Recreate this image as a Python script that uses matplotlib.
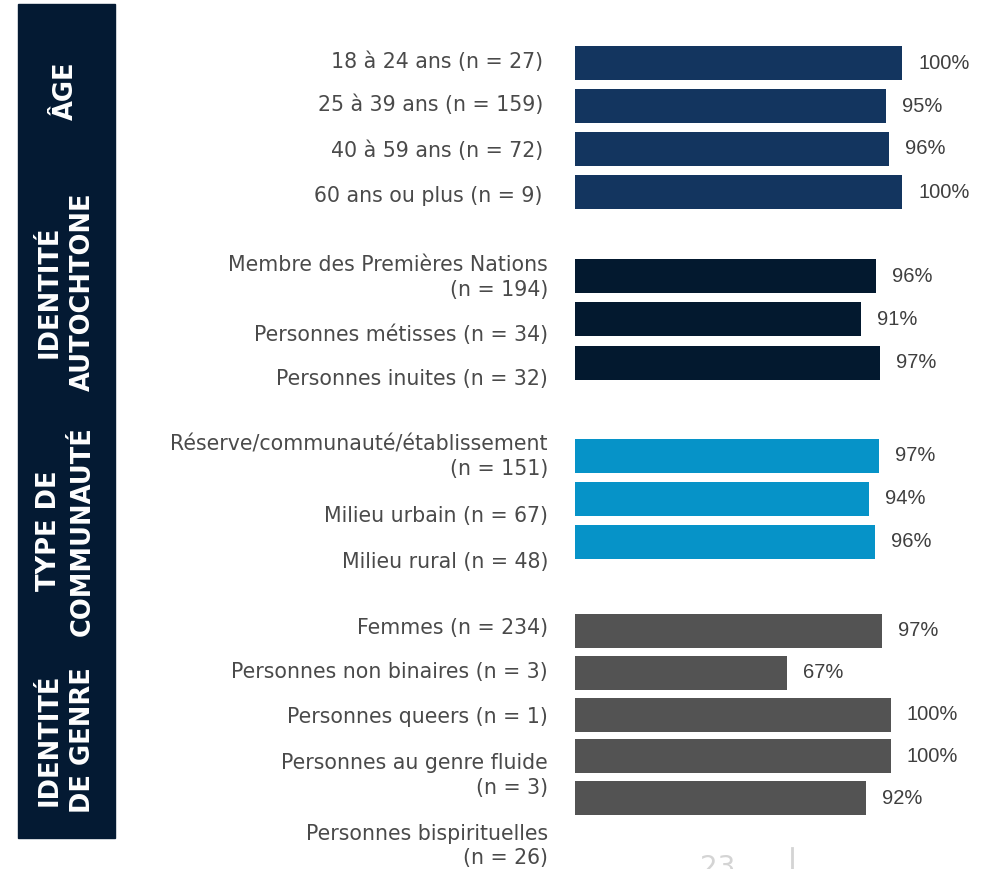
import numpy as np
import matplotlib.pyplot as plt
from matplotlib.patches import Rectangle

#%% Données
age_labels = ['18 à 24 ans (n = 27)', '25 à 39 ans (n = 159)',
              '40 à 59 ans (n = 72)', '60 ans ou plus (n = 9)']
age_vals = [100, 95, 96, 100]

auto_labels = ['Membre des Premières Nations\n(n = 194)',
               'Personnes métisses (n = 34)', 'Personnes inuites (n = 32)']
auto_vals = [96, 91, 97]

comm_labels = ['Réserve/communauté/établissement\n(n = 151)',
               'Milieu urbain (n = 67)', 'Milieu rural (n = 48)']
comm_vals = [97, 94, 96]

genre_labels = ['Femmes (n = 234)', 'Personnes non binaires (n = 3)',
                'Personnes queers (n = 1)', 'Personnes au genre fluide\n(n = 3)',
                'Personnes bispirituelles\n(n = 26)']
genre_vals = [97, 67, 100, 100, 92]

group_titles = ['ÂGE', 'IDENTITÉ\nAUTOCHTONE', 'TYPE DE\nCOMMUNAUTÉ', 'IDENTITÉ\nDE GENRE']

#%% Mise en page (pixels)
W, H = 986, 869
def fx(px): return px / W
def fy(py): return 1 - py / H

groups = [
    # valeurs, étiquettes, couleur, centre 1re barre, pas, largeur 100 %, y des étiquettes, bord droit
    (age_vals, age_labels, '#13355f', 63, 43, 327, [62, 105, 151, 196], 543),
    (auto_vals, auto_labels, '#03192f', 276, 43.3, 314, [277.5, 335, 379], 548),
    (comm_vals, comm_labels, '#0693c8', 455.5, 43, 313, [456.5, 516, 562], 548),
    (genre_vals, genre_labels, '#535353', 631, 41.8, 316, [628, 672, 717, 775.5, 846], 548),
]
title_y = [91, 292, 531, 740]

label_font = ['DejaVu Sans']
pct_font = ['Liberation Sans', 'DejaVu Sans']

fig = plt.figure(figsize=(W / 100, H / 100), dpi=100)

# bandeau vertical des groupes
fig.patches.append(Rectangle((fx(18), fy(838)), (115 - 18) / W, (838 - 4) / H,
                             transform=fig.transFigure, color='#041a33', zorder=0))
for t, ty in zip(group_titles, title_y):
    fig.text(fx(66), fy(ty), t, rotation=90, ha='center', va='center',
             multialignment='center', color='white', fontweight='bold',
             fontsize=18.5, linespacing=1.35, family=label_font)

x0 = 575
bar_h = 34
for vals, labels, col, y_first, pitch, w100, lab_y, x_right in groups:
    n = len(vals)
    top = y_first - pitch / 2
    bot = y_first + pitch * (n - 1) + pitch / 2
    ax = fig.add_axes([fx(x0), fy(bot), w100 / W, (bot - top) / H])
    ax.barh(np.arange(n), vals, height=bar_h / pitch, color=col, left=0)
    ax.set_xlim(0, 100)
    ax.set_ylim(n - 0.5, -0.5)
    ax.axis('off')
    for i, v in enumerate(vals):
        ax.annotate(f'{v}%', xy=(v, i), xytext=(16, 0), textcoords='offset pixels',
                    ha='left', va='center', fontsize=14.5, color='#3f3f3f',
                    family=pct_font, annotation_clip=False)
    for lab, ly in zip(labels, lab_y):
        fig.text(fx(x_right), fy(ly), lab, ha='right', va='center',
                 multialignment='right', fontsize=14.8, color='#4a4a4a',
                 linespacing=1.3, family=label_font)

# pied de page
fig.text(fx(718), fy(854), '23', ha='center', va='top', fontsize=20,
         color='#d4d4d4', family=label_font)
fig.add_artist(plt.Line2D([fx(791.5), fx(791.5)], [fy(848), fy(869)],
                          transform=fig.transFigure, color='#d4d4d4', lw=2))

fig.savefig('out.png', dpi=100, facecolor='white')
